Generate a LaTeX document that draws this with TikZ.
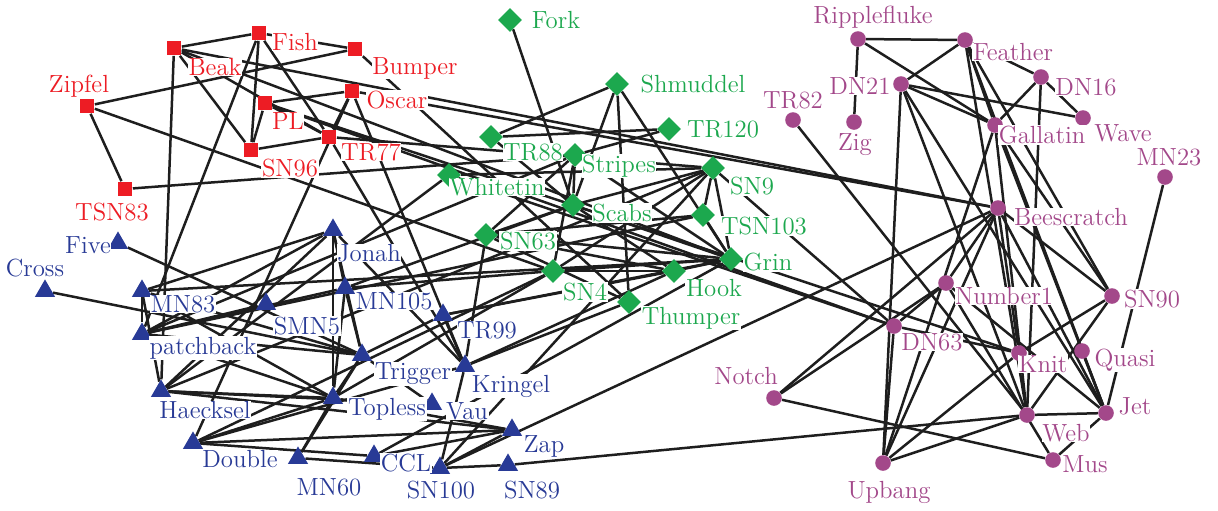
\documentclass[tikz,border=0pt]{standalone}
\usepackage{fontspec}
\usetikzlibrary{shapes.geometric,backgrounds}
\definecolor{dRed}{RGB}{237,28,36}
\definecolor{dGreen}{RGB}{28,168,78}
\definecolor{dBlue}{RGB}{40,58,150}
\definecolor{dPurple}{RGB}{163,72,138}
\definecolor{edgeC}{RGB}{30,30,30}
\tikzset{
  edge/.style={draw=edgeC, line width=1.25pt},
  rsq/.style={rectangle, fill=dRed, minimum size=7.4pt, inner sep=0pt},
  gdia/.style={diamond, fill=dGreen, minimum width=12pt, minimum height=12pt, inner sep=0pt},
  btri/.style={regular polygon, regular polygon sides=3, fill=dBlue, minimum size=11.6pt, inner sep=0pt},
  pcirc/.style={circle, fill=dPurple, minimum size=7.8pt, inner sep=0pt},
  lab/.style={fill=white, inner sep=0.3pt, font=\fontsize{12.4}{13}\selectfont\addfontfeatures{LetterSpace=3}},
}
\begin{document}
\begin{tikzpicture}[x=0.5pt,y=-0.5pt]
\path[use as bounding box] (0,0) rectangle (1218,510);
% dolphins, one community per colour and marker
\foreach \n/\x/\y in {Fish/259/33, Beak/174/48, Bumper/355/49, Zipfel/87/106, Oscar/352/91,
  PL/265/103, TR77/329/137, SN96/251/150, TSN83/125/189}
  \node[rsq] (\n) at (\x,\y) {};
\foreach \n/\x/\y in {Fork/510/20, Shmuddel/617/84, TR120/669/129, TR88/491/137, Stripes/575/155,
  Whitetip/449/175, SN9/713/168, Scabs/573/205, TSN103/703/215, SN63/486/235, Grin/731/259,
  SN4/553/271, Hook/674/271, Thumper/629/302}
  \node[gdia] (\n) at (\x,\y) {};
\foreach \n/\x/\y in {Five/118/243, Cross/45/291, Jonah/333/230, MN83/142/291, MN105/345/288,
  SMN5/266/304, TR99/443/315, Patchback/142/334, Trigger/362/355, Kringel/465/366,
  Haecksel/161/391, Topless/333/398, Vau/432/404, Double/193/443, Zap/512/430, MN60/298/458,
  CCL/374/456, SN100/440/468, SN89/508/465}
  \node[btri] (\n) at (\x,\y) {};
\foreach \n/\x/\y in {Ripplefluke/858/39, Feather/965/40, DN21/901/84, DN16/1041/77, TR82/793/120,
  Zig/854/122, Gallatin/995/125, Wave/1083/118, MN23/1165/177, Beescratch/998/208,
  Number1/946/283, SN90/1112/296, DN63/894/326, Knit/1019/353, Quasi/1082/351, Notch/774/398,
  Jet/1106/413, Web/1027/415, Mus/1053/460, Upbang/883/463}
  \node[pcirc] (\n) at (\x,\y) {};
% associations
\begin{pgfonlayer}{background}
\foreach \a/\b in {Double/CCL, Feather/DN16, Feather/DN21, Fish/Beak, Fish/Bumper,
  Gallatin/DN16, Gallatin/DN21, Gallatin/Feather, Grin/Beak, Grin/CCL, Haecksel/Beak, Hook/Grin,
  Jet/Beescratch, Jet/DN21, Jet/Feather, Jet/Gallatin, Jonah/Haecksel, Knit/Beescratch, Knit/DN63,
  Kringel/Double, Kringel/Hook, Kringel/Jonah, MN105/Jonah, MN23/Jet, MN83/Grin, MN83/Haecksel,
  MN83/Jonah, Mus/Jet, Notch/Beescratch, Notch/Mus, Number1/Beescratch, Number1/DN63, Number1/Jet,
  Number1/Mus, Number1/Notch, Oscar/Beescratch, Oscar/Double, Oscar/Kringel, Patchback/Fish,
  Patchback/Jonah, Patchback/MN105, Patchback/MN83, PL/DN63, PL/Knit, PL/Oscar, Quasi/Jet,
  Ripplefluke/Feather, Ripplefluke/Gallatin, Scabs/Fork, Scabs/Grin, Scabs/Hook, Scabs/MN105,
  Shmuddel/Grin, Shmuddel/Scabs, SMN5/Patchback, SN100/Beescratch, SN100/Kringel, SN100/MN60,
  SN4/Double, SN4/Grin, SN4/Hook, SN4/MN105, SN63/Grin, SN63/Hook, SN63/Kringel, SN63/Scabs,
  SN89/SN100, Beak/Beescratch, SN9/DN63, SN9/Grin, SN9/Haecksel, SN9/Scabs, SN9/SN100, SN9/SN4,
  SN90/Beescratch, SN90/Feather, SN90/Gallatin, SN96/Beak, SN96/TR77, SN96/Fish, SN96/PL,
  Stripes/Grin, Stripes/Patchback, Stripes/Scabs, Stripes/SN4, Stripes/SN63, Thumper/Bumper,
  Thumper/Kringel, Thumper/Shmuddel, Thumper/SN63, Topless/Double, Topless/Haecksel, Topless/Jonah,
  Topless/MN105, Topless/MN60, Topless/MN83, Topless/Patchback, Topless/SN4, TR120/Stripes,
  TR120/TR88, TR77/Beak, TR77/Fish, TR77/Kringel, TR77/Oscar, TR77/PL, TR77/SN9, TR88/Scabs,
  TR88/Shmuddel, TR99/Grin, TR99/Hook, TR99/Kringel, Trigger/Cross, Trigger/Five, Trigger/Jonah,
  Trigger/MN105, Trigger/MN60, Trigger/MN83, Trigger/Patchback, Trigger/Topless, Trigger/TR99,
  TSN103/Grin, TSN103/Patchback, TSN103/SN63, TSN103/SN9, TSN83/Stripes, Upbang/Beescratch,
  Upbang/DN21, Upbang/DN63, Upbang/Gallatin, Upbang/Knit, Knit/SN90, Vau/Haecksel, Vau/Trigger,
  Wave/DN16, Wave/DN21, Web/DN16, Web/DN21, Web/Feather, Web/Gallatin, Web/Jet, Web/SN89,
  Web/SN90, Web/TR82, Web/Upbang, Whitetip/DN63, Whitetip/SN9, Whitetip/Haecksel, Zap/CCL,
  Zap/Double, Zap/Haecksel, Zap/SN100, Zap/Topless, Zig/Ripplefluke, Zipfel/Bumper, Zipfel/SN4,
  Zipfel/TSN83}
  \draw[edge] (\a) -- (\b);
\end{pgfonlayer}
% names
\foreach \n/\x/\y/\t in {Fish/295/42/Fish, Beak/215/67/Beak, Bumper/415/68/Bumper,
  Zipfel/79/86/Zipfel, Oscar/397/100/Oscar, PL/288/121/PL, TR77/371/152/TR77,
  SN96/290/168/SN96, TSN83/112/212/TSN83}
  \node[lab, text=dRed] (l\n) at (\x,\y) {\t};
\foreach \n/\x/\y/\t in {Fork/556/20/Fork, Shmuddel/693/84/Shmuddel, TR120/723/129/TR120,
  TR88/533/152/TR88, Stripes/619/166/Stripes, Whitetip/497/187/Whitetin, SN9/752/186/SN9,
  Scabs/622/213/Scabs, TSN103/764/226/TSN103, SN63/528/241/SN63, Grin/768/262/Grin,
  SN4/585/292/SN4, Hook/714/288/Hook, Thumper/691/318/Thumper}
  \node[lab, text=dGreen] (l\n) at (\x,\y) {\t};
\foreach \n/\x/\y/\t in {Five/88/245/Five, Cross/35/268/Cross, Jonah/369/253/Jonah,
  MN83/183/304/MN83, MN105/394/301/MN105, SMN5/307/326/SMN5, TR99/487/330/TR99,
  Patchback/203/348/patchback, Trigger/413/374/Trigger, Kringel/511/386/Kringel,
  Haecksel/205/410/Haecksel, Topless/387/409/Topless, Vau/467/411/Vau, Double/240/459/Double,
  Zap/544/446/Zap, MN60/329/487/MN60, CCL/406/463/CCL, SN100/441/490/SN100, SN89/532/490/SN89}
  \node[lab, text=dBlue] (l\n) at (\x,\y) {\t};
\foreach \n/\x/\y/\t in {Ripplefluke/873/17/Ripplefluke, Feather/1013/52/Feather,
  DN21/860/86/DN21, DN16/1086/87/DN16, TR82/793/100/TR82, Zig/855/145/Zig,
  Gallatin/1042/135/Gallatin, Wave/1123/133/Wave, MN23/1169/157/MN23,
  Beescratch/1071/217/Beescratch, Number1/1004/296/Number1, SN90/1152/299/SN90,
  DN63/932/342/DN63, Knit/1043/364/Knit, Quasi/1125/360/Quasi, Notch/746/376/Notch,
  Jet/1135/406/Jet, Web/1066/433/Web, Mus/1085/464/Mus, Upbang/889/492/Upbang}
  \node[lab, text=dPurple] (l\n) at (\x,\y) {\t};
\end{tikzpicture}
\end{document}
